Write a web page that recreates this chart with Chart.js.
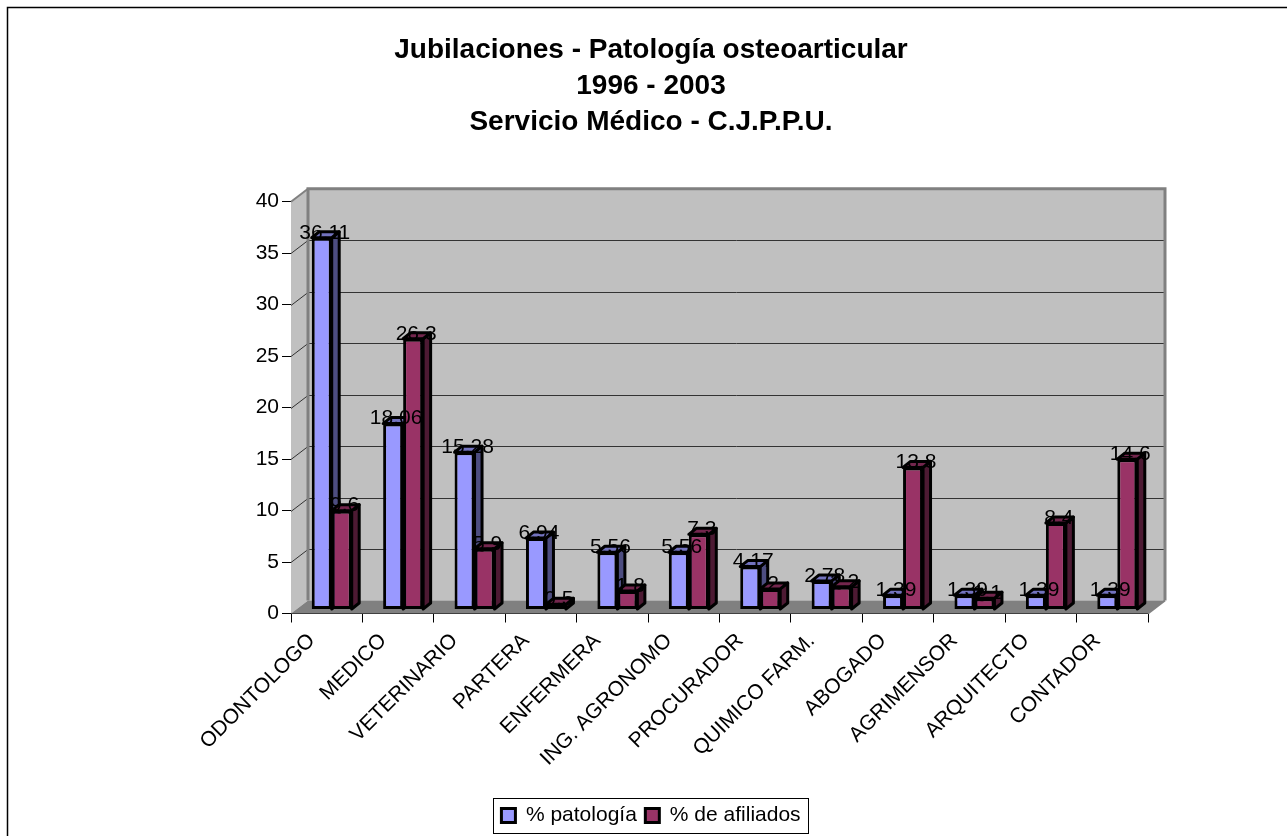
<!DOCTYPE html>
<html><head><meta charset="utf-8">
<style>html,body{margin:0;padding:0;background:#fff}#w{position:relative;width:1287px;height:836px}</style>
<script src="https://cdn.jsdelivr.net/npm/chart.js@4/dist/chart.umd.min.js"></script>
</head><body><div id="w"><canvas id="c" width="1287" height="836"></canvas></div>
<script>
const categories=["ODONTOLOGO","MEDICO","VETERINARIO","PARTERA","ENFERMERA","ING. AGRONOMO","PROCURADOR","QUIMICO FARM.","ABOGADO","AGRIMENSOR","ARQUITECTO","CONTADOR"];
const patologia=[36.11,18.06,15.28,6.94,5.56,5.56,4.17,2.78,1.39,1.39,1.39,1.39];
const afiliados=[9.6,26.3,5.9,0.5,1.8,7.3,2,2.2,13.8,1.1,8.4,14.6];
const yTicks=[0,5,10,15,20,25,30,35,40];
const titleLines=["Jubilaciones - Patología osteoarticular","1996 - 2003","Servicio Médico - C.J.P.P.U."];
const FONT='"Liberation Sans", Arial, sans-serif';
const WALL={dx:17,dy:-13}, BAR={dx:5,dy:-4}, DEPTH={dx:7.5,dy:-6};
const sideColors=['#4d4d80','#4d1a33'], topColors=['#7373bf','#73264d'];

function drawDepth(ctx,meta,i){
  const D=DEPTH;
  ctx.lineWidth=3;ctx.strokeStyle='#000';ctx.lineJoin='round';
  meta.data.forEach(b=>{
    const l=b.x-b.width/2,r=b.x+b.width/2,t=b.y,bt=b.base;
    ctx.fillStyle=sideColors[i];
    ctx.beginPath();ctx.moveTo(r,t);ctx.lineTo(r+D.dx,t+D.dy);ctx.lineTo(r+D.dx,bt+D.dy);ctx.lineTo(r,bt);ctx.closePath();ctx.fill();ctx.stroke();
    ctx.fillStyle=topColors[i];
    ctx.beginPath();ctx.moveTo(l,t);ctx.lineTo(l+D.dx,t+D.dy);ctx.lineTo(r+D.dx,t+D.dy);ctx.lineTo(r,t);ctx.closePath();ctx.fill();ctx.stroke();
  });
}

const depthPlugin={
 id:'depth3d',
 beforeDatasetsDraw(chart){
  const {ctx,chartArea:a,scales:{y}}=chart;
  const W=WALL;
  ctx.save();
  ctx.fillStyle='#c0c0c0';
  ctx.beginPath();ctx.moveTo(a.left,a.top);ctx.lineTo(a.left+W.dx,a.top+W.dy);ctx.lineTo(a.left+W.dx,a.bottom+W.dy);ctx.lineTo(a.left,a.bottom);ctx.closePath();ctx.fill();
  ctx.fillRect(a.left+W.dx,a.top+W.dy,a.right-a.left,a.bottom-a.top);
  ctx.fillStyle='#808080';
  ctx.beginPath();ctx.moveTo(a.left,a.bottom);ctx.lineTo(a.left+W.dx,a.bottom+W.dy);ctx.lineTo(a.right+W.dx,a.bottom+W.dy);ctx.lineTo(a.right,a.bottom);ctx.closePath();ctx.fill();
  ctx.strokeStyle='#333';ctx.lineWidth=1;
  yTicks.forEach(v=>{ if(v===0||v===40) return;
    const p=Math.round(y.getPixelForValue(v))+.5;
    ctx.beginPath();ctx.moveTo(a.left,p);ctx.lineTo(a.left+W.dx,p+W.dy);ctx.lineTo(a.right+W.dx,p+W.dy);ctx.stroke();
  });
  ctx.strokeStyle='#808080';ctx.lineWidth=3;
  ctx.beginPath();ctx.moveTo(a.left+W.dx,a.bottom+W.dy);ctx.lineTo(a.left+W.dx,a.top+W.dy);ctx.lineTo(a.right+W.dx,a.top+W.dy);ctx.lineTo(a.right+W.dx,a.bottom+W.dy);ctx.stroke();
  ctx.lineWidth=2;
  ctx.beginPath();ctx.moveTo(a.left,a.top);ctx.lineTo(a.left+W.dx,a.top+W.dy);ctx.stroke();
  ctx.beginPath();ctx.moveTo(a.right,a.bottom);ctx.lineTo(a.right+W.dx,a.bottom+W.dy);ctx.stroke();
  ctx.restore();
 },
 beforeDatasetDraw(chart,args){
  const {ctx}=chart;
  if(args.index===1) return false; // second series is painted after the first, on top of its side faces
  ctx.save();
  ctx.translate(BAR.dx,BAR.dy);
  drawDepth(ctx,chart.getDatasetMeta(0),0);
 },
 afterDatasetDraw(chart,args){
  const {ctx}=chart;
  ctx.restore();
  if(args.index!==0) return;
  ctx.save();
  ctx.translate(BAR.dx,BAR.dy);
  const m=chart.getDatasetMeta(1);
  drawDepth(ctx,m,1);
  m.data.forEach(b=>b.draw(ctx));
  ctx.restore();
 },
 afterDatasetsDraw(chart){
  const {ctx}=chart;
  ctx.save();
  ctx.fillStyle='#000';ctx.font='21px '+FONT;ctx.textAlign='center';ctx.textBaseline='middle';
  [0,1].forEach(i=>{
    chart.getDatasetMeta(i).data.forEach((b,k)=>{
      ctx.fillText(String(chart.data.datasets[i].data[k]),b.x+BAR.dx+3,b.y+BAR.dy-5);
    });
  });
  ctx.restore();
 },
 afterDraw(chart){
  const {ctx}=chart;
  ctx.save();
  ctx.strokeStyle='#000';ctx.lineWidth=1.5;
  ctx.beginPath();ctx.moveTo(7.5,836);ctx.lineTo(7.5,7.5);ctx.lineTo(1287,7.5);ctx.stroke();
  ctx.lineWidth=1;
  ctx.strokeRect(493.5,798.5,315,35);
  ctx.restore();
 }
};

new Chart(document.getElementById('c'),{
 type:'bar',
 data:{labels:categories,datasets:[
  {label:'% patología',data:patologia,backgroundColor:'#9999ff',borderColor:'#000',borderWidth:3,clip:false,categoryPercentage:.56,barPercentage:1,borderSkipped:false},
  {label:'% de afiliados',data:afiliados,backgroundColor:'#993366',borderColor:'#000',borderWidth:3,clip:false,categoryPercentage:.56,barPercentage:1,borderSkipped:false}
 ]},
 plugins:[depthPlugin],
 options:{
  responsive:false,animation:false,
  layout:{padding:{left:154,right:139,top:0,bottom:0}},
  plugins:{
   tooltip:{enabled:false},
   title:{display:true,text:titleLines,color:'#000',font:{family:FONT,size:28,weight:'bold',lineHeight:1.27},padding:{top:33,bottom:62}},
   legend:{position:'bottom',labels:{color:'#000',font:{family:FONT,size:21},boxWidth:14,boxHeight:14,padding:8.5}},
  },
  scales:{
   x:{grid:{drawOnChartArea:false,color:'#000',tickLength:9,offset:true},border:{color:'#000'},
      ticks:{color:'#000',font:{family:FONT,size:21},maxRotation:45,minRotation:45,autoSkip:false,padding:6,labelOffset:-15},
      afterFit(s){s.height=183;}},
   y:{min:0,max:40,grid:{drawOnChartArea:false,color:'#000',tickLength:9},border:{color:'#000'},
      ticks:{color:'#000',font:{family:FONT,size:21},stepSize:5,padding:3},
      afterFit(s){s.width=137;}}
  }
 }
});
</script></body></html>
